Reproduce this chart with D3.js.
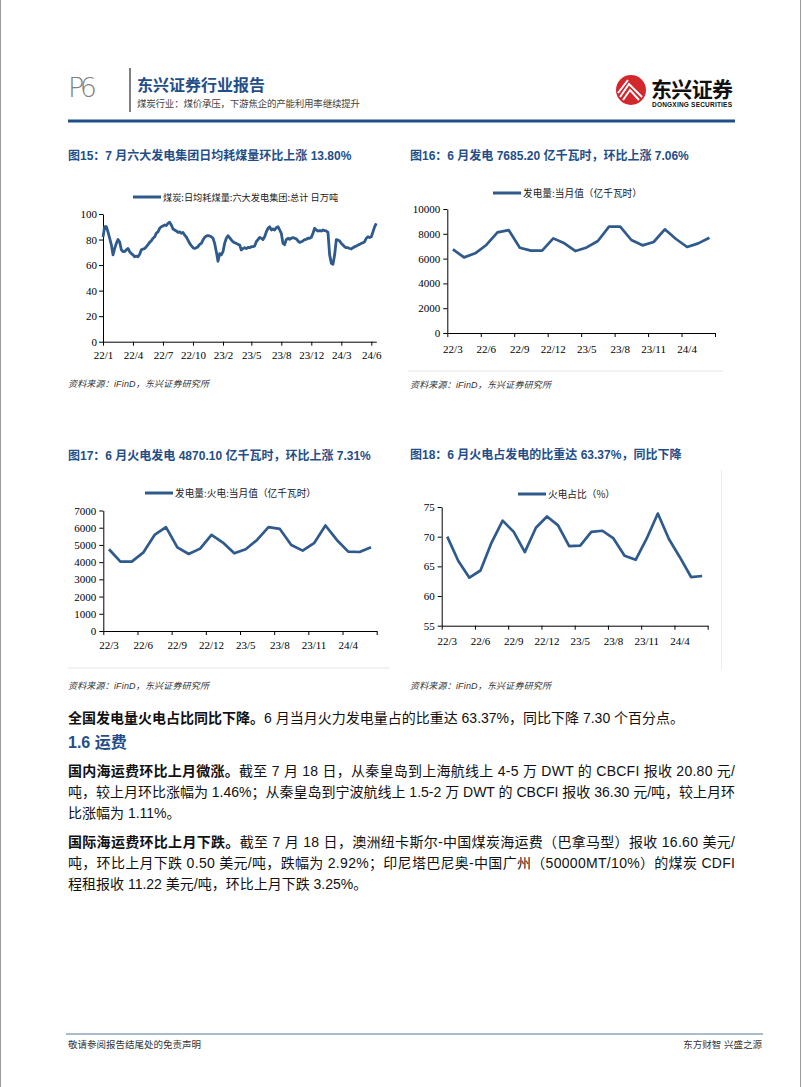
<!DOCTYPE html>
<html>
<head>
<meta charset="utf-8">
<script src="https://cdn.jsdelivr.net/npm/d3@7"></script>
<style>
body{margin:0;background:#fff;}
svg text{font-family:"Liberation Sans",Arial,"Noto Sans CJK SC",sans-serif;}
.ax text{font-family:"Liberation Serif","Times New Roman",serif;font-size:11px;fill:#000;}
.ax path,.ax line{stroke:#000;stroke-width:1;}
</style>
</head>
<body>
<script>
// ---- data ----
// fig15: daily coal burn of the six big power groups (readings taken along the curve)
var coalDaily = [
  82,90,90,86,81,76,68,73,77,80,78,72,70.5,70.5,72,73,70.5,69,68,66.5,
  67,66.5,68.5,72,72.5,73,74.4,76,77.8,79,81,82,85,86,88.8,90,90.6,91.4,91,92.7,
  93.5,91.4,88.3,87.5,86.7,85.6,86,84.9,85.6,83.5,82,79.6,77,75.2,73.6,73,73.6,74.4,76.2,77,
  79.6,81.7,82.8,83,82.8,82.2,81,77,70.5,63,69,68,70.5,77,81,83,81.5,79.6,78.3,77.5,
  77,76.2,75.7,71.8,
  73,73.6,73,73.8,73.6,74.4,74.4,75,78.3,80,81.7,81,80,82.2,86,88.8,90,87.5,88.3,87.5,
  89.3,90,87.5,84.9,77,76,80,81,80.2,81,81.5,81,80.5,78.9,77.8,78.3,78.9,80,80.2,81,
  81,81.7,84.9,88.8,87.5,86.7,87,86.7,87.5,87,86.7,85.6,68,61.4,60.6,68,80,79.6,78.9,77,
  75.7,74.4,73.6,73.6,73,72.6,73.6,74.4,74.8,75.7,76.2,77,77.5,78.3,81,82.2,81.5,82.2,86,90,
  92.7
];
var coalTickIdx = [0,18,36,54,72,89,107,125,143,161];
var coalTickLabels = ["22/1","22/4","22/7","22/10","23/2","23/5","23/8","23/12","24/3","24/6"];
var coalYTicks = [0,20,40,60,80,100];

// monthly series (Jan/Feb not published separately)
var months = ["22/3","22/4","22/5","22/6","22/7","22/8","22/9","22/10","22/11","22/12",
              "23/3","23/4","23/5","23/6","23/7","23/8","23/9","23/10","23/11","23/12",
              "24/3","24/4","24/5","24/6"];
var powerGen = [6750,6100,6425,7100,8120,8300,6880,6640,6640,7630,
                7230,6610,6900,7420,8575,8575,7500,7070,7340,8360,
                7580,6935,7230,7685.2];
var thermalGen = [4750,4030,4030,4550,5580,6030,4860,4475,4785,5580,
                  5140,4515,4750,5290,6030,5930,5000,4670,5100,6130,
                  5290,4610,4590,4870.1];
var thermalShare = [70.0,65.9,63.1,64.3,69.0,72.7,70.8,67.4,71.5,73.4,
                    71.9,68.4,68.5,70.8,71.0,69.7,66.8,66.1,69.7,73.9,
                    69.6,66.5,63.2,63.37];
var powerYTicks = [0,2000,4000,6000,8000,10000];
var thermalYTicks = [0,1000,2000,3000,4000,5000,6000,7000];
var shareYTicks = [55,60,65,70,75];

var blue = "#1f4e89", lineColor = "#2f5a8c";

var svg = d3.select('body').append('svg')
            .attr('width', 802)
            .attr('height', 1087);

// page edges
svg.append('line').attr('x1',0.5).attr('x2',0.5).attr('y1',0).attr('y2',1087).attr('stroke','#9a9a9a');
svg.append('line').attr('x1',800.5).attr('x2',800.5).attr('y1',0).attr('y2',1087).attr('stroke','#9a9a9a');

// ---- header ----
svg.append('text').attr('x',68).attr('y',97).attr('textLength',29)
   .style('font-size','27px').style('fill','#808080').style('font-family','"DejaVu Sans",sans-serif')
   .style('font-weight','200').text('P6');
svg.append('line').attr('x1',130).attr('x2',130).attr('y1',68).attr('y2',112)
   .attr('stroke','#555').attr('stroke-width',1.5);
svg.append('text').attr('x',137).attr('y',91)
   .style('font-size','16px').style('font-weight','bold').style('fill',blue)
   .text('东兴证券行业报告');
svg.append('text').attr('x',137).attr('y',107).attr('textLength',223)
   .style('font-size','9.5px').style('fill','#444')
   .text('煤炭行业：煤价承压，下游焦企的产能利用率继续提升');

// logo
svg.append('circle').attr('cx',631).attr('cy',90).attr('r',15).attr('fill','#d3272e');
svg.append('path').attr('d','M620,97 L629,84 L642,97 M623,100 L630,90 L639,100 M618,93 L628,80')
   .attr('fill','none').attr('stroke','#fff').attr('stroke-width',2);
svg.append('text').attr('x',651).attr('y',97).attr('textLength',82)
   .style('font-size','21px').style('font-weight','bold').style('fill','#111')
   .text('东兴证券');
svg.append('text').attr('x',652).attr('y',107).attr('textLength',80)
   .style('font-size','6.5px').style('font-weight','bold').style('fill','#111')
   .text('DONGXING SECURITIES');

svg.append('rect').attr('x',68).attr('y',119.5).attr('width',667).attr('height',3).attr('fill',blue);

// ---- helpers ----
function title(x, y, t){
  svg.append('text').attr('x',x).attr('y',y)
     .style('font-size','12px').style('font-weight','bold').style('fill',blue).text(t);
}
function source(x, y){
  svg.append('text').attr('x',x).attr('y',y).attr('textLength',141)
     .style('font-size','9px').style('font-style','italic').style('fill','#333')
     .text('资料来源：iFinD，东兴证券研究所');
}
function legend(x0, y0, t, fs){
  svg.append('line').attr('x1',x0).attr('x2',x0+28).attr('y1',y0).attr('y2',y0)
     .attr('stroke',lineColor).attr('stroke-width',3);
  svg.append('text').attr('x',x0+30).attr('y',y0+3.5)
     .style('font-size',fs+'px').style('fill','#222')
     .style('font-family','"Noto Sans CJK SC",sans-serif').text(t);
}

function monthlyChart(o){
  var n = o.values.length;
  var x = d3.scaleBand().domain(d3.range(n)).range([o.x0, o.x1]);
  var xb = d3.scaleLinear().domain([0, n]).range([o.x0, o.x1]);
  var y = d3.scaleLinear().domain(o.yDomain).range([o.yBottom, o.yTop]);
  var g = svg.append('g');

  g.append('g').attr('class','ax').attr('transform','translate('+o.x0+',0)')
   .call(d3.axisLeft(y).tickValues(o.yTicks).tickFormat(d3.format('d'))
           .tickSize(4).tickSizeOuter(0).tickPadding(3));

  g.append('g').attr('class','ax').attr('transform','translate(0,'+o.yBottom+')')
   .call(d3.axisBottom(xb).tickValues(d3.range(0, n+1, 3)).tickFormat('').tickSize(4).tickSizeOuter(0));

  g.selectAll('.xl').data(d3.range(0, n, 3)).enter().append('text')
   .attr('class','xl')
   .attr('x', function(i){ return x(i) + x.bandwidth()/2; })
   .attr('y', o.yBottom + o.labelDy)
   .attr('text-anchor','middle')
   .style('font-family','"Liberation Serif","Times New Roman",serif')
   .style('font-size','11px')
   .text(function(i){ return months[i]; });

  var line = d3.line()
               .x(function(d,i){ return x(i) + x.bandwidth()/2; })
               .y(function(d){ return y(d); });
  g.append('path').datum(o.values).attr('d', line)
   .attr('fill','none').attr('stroke',lineColor).attr('stroke-width',2.7)
   .attr('stroke-linejoin','round');
}

// ---- fig 15 ----
title(68, 160, '图15：7 月六大发电集团日均耗煤量环比上涨 13.80%');
legend(133, 197, '煤炭:日均耗煤量:六大发电集团:总计 日万吨', 9.2);
(function(){
  var x = d3.scaleLinear().domain([0, coalDaily.length-1]).range([103, 376.3]);
  var y = d3.scaleLinear().domain([0,100]).range([341.7, 214]);
  svg.append('g').attr('class','ax').attr('transform','translate(103,0)')
     .call(d3.axisLeft(y).tickValues(coalYTicks).tickSize(4).tickSizeOuter(0).tickPadding(2));
  svg.append('g').attr('class','ax').attr('transform','translate(0,341.7)')
     .call(d3.axisBottom(x).tickValues(coalTickIdx)
             .tickFormat(function(d,i){ return coalTickLabels[i]; })
             .tickSize(4).tickSizeOuter(0).tickPadding(6));
  svg.append('path').datum(coalDaily)
     .attr('d', d3.line().x(function(d,i){ return x(i); }).y(function(d){ return y(d); }))
     .attr('fill','none').attr('stroke',lineColor).attr('stroke-width',2.8)
     .attr('stroke-linejoin','round');
})();
source(68, 387);

// ---- fig 16 ----
title(410, 160, '图16：6 月发电 7685.20 亿千瓦时，环比上涨 7.06%');
legend(493, 193, '发电量:当月值（亿千瓦时）', 9.7);
monthlyChart({values: powerGen, x0: 447.3, x1: 715, yTop: 209, yBottom: 333,
              yDomain: [0,10000], yTicks: powerYTicks, labelDy: 20});
svg.append('line').attr('x1',408).attr('x2',723).attr('y1',371).attr('y2',371).attr('stroke','#e6e6e6');
source(410, 388);

// ---- fig 17 ----
title(68, 460, '图17：6 月火电发电 4870.10 亿千瓦时，环比上涨 7.31%');
legend(145, 493, '发电量:火电:当月值（亿千瓦时）', 9.7);
monthlyChart({values: thermalGen, x0: 103.3, x1: 376.7, yTop: 510.5, yBottom: 631,
              yDomain: [0,7000], yTicks: thermalYTicks, labelDy: 18});
svg.append('line').attr('x1',68).attr('x2',390).attr('y1',668).attr('y2',668).attr('stroke','#e6e6e6');
source(68, 689);

// ---- fig 18 ----
title(410, 459, '图18：6 月火电占发电的比重达 63.37%，同比下降');
legend(518, 494, '火电占比（%）', 9.7);
monthlyChart({values: thermalShare, x0: 441.7, x1: 707.7, yTop: 507, yBottom: 625.7,
              yDomain: [55,75], yTicks: shareYTicks, labelDy: 19});
svg.append('line').attr('x1',721.5).attr('x2',721.5).attr('y1',470).attr('y2',670).attr('stroke','#ececec');
source(410, 689);

// ---- body text ----
function para(y, parts, len){
  var t = svg.append('text').attr('x',68).attr('y',y)
             .style('font-size','14px').style('fill','#111');
  if(len){ t.attr('textLength',len).attr('lengthAdjust','spacing'); }
  parts.forEach(function(p){
    t.append('tspan').style('font-weight', p[1] ? 'bold' : 'normal').text(p[0]);
  });
}
para(723, [['全国发电量火电占比同比下降。',1],['6 月当月火力发电量占的比重达 63.37%，同比下降 7.30 个百分点。',0]]);
svg.append('text').attr('x',68).attr('y',748)
   .style('font-size','16px').style('font-weight','bold').style('fill',blue).text('1.6 运费');
para(776, [['国内海运费环比上月微涨。',1],['截至 7 月 18 日，从秦皇岛到上海航线上 4-5 万 DWT 的 CBCFI 报收 20.80 元/',0]], 667);
para(797, [['吨，较上月环比涨幅为 1.46%；从秦皇岛到宁波航线上 1.5-2 万 DWT 的 CBCFI 报收 36.30 元/吨，较上月环',0]], 667);
para(818, [['比涨幅为 1.11%。',0]]);
para(847, [['国际海运费环比上月下跌。',1],['截至 7 月 18 日，澳洲纽卡斯尔-中国煤炭海运费（巴拿马型）报收 16.60 美元/',0]], 667);
para(868, [['吨，环比上月下跌 0.50 美元/吨，跌幅为 2.92%；印尼塔巴尼奥-中国广州（50000MT/10%）的煤炭 CDFI',0]], 667);
para(889, [['程租报收 11.22 美元/吨，环比上月下跌 3.25%。',0]]);

// ---- footer ----
svg.append('line').attr('x1',66).attr('x2',763).attr('y1',1034).attr('y2',1034)
   .attr('stroke','#a9bccb').attr('stroke-width',2);
svg.append('text').attr('x',68).attr('y',1048)
   .style('font-size','9.5px').style('fill','#333').text('敬请参阅报告结尾处的免责声明');
svg.append('text').attr('x',762).attr('y',1048).attr('text-anchor','end')
   .style('font-size','9.5px').style('fill','#333').text('东方财智 兴盛之源');
</script>
</body>
</html>
